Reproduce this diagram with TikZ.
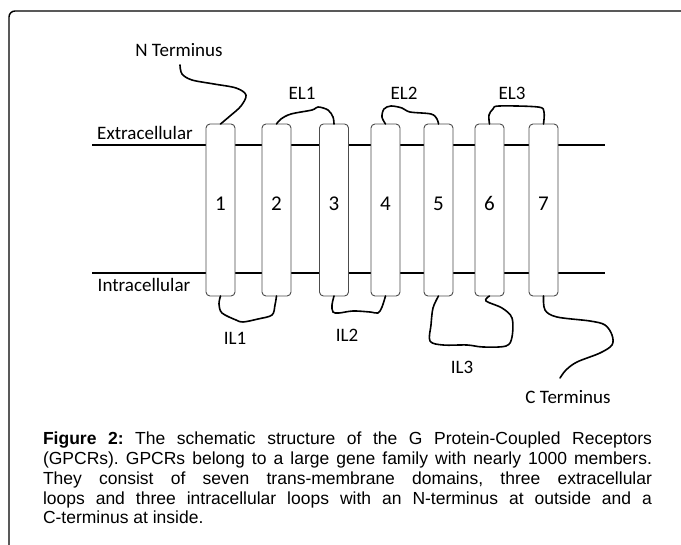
\documentclass[tikz,border=0pt]{standalone}
\usepackage{fontspec}
\setmainfont{Carlito}
\newfontfamily\capfont{Liberation Sans}
\usetikzlibrary{positioning}

\begin{document}
\begin{tikzpicture}
[x=1pt,y=-1pt,
 every node/.style={inner sep=0pt,outer sep=0pt,font=\fontsize{19}{22}\selectfont},
 helix/.style={rectangle,draw=black!70,fill=white,line width=0.9pt,rounded corners=4pt,
               minimum width=29pt,minimum height=172pt,text height=14pt,text depth=12pt,
               font=\fontsize{21}{24}\selectfont},
 membrane/.style={line width=1.6pt},
 loop/.style={line width=1.6pt,line join=round,line cap=round}]

\useasboundingbox (0,0) rectangle (681,545);

% frame
\draw[line width=1.4pt,rounded corners=6pt] (9,545) -- (9,11) -- (681,11);

% membrane
\coordinate (ExtL) at (92,145);
\coordinate (ExtR) at (605,145);
\coordinate (IntL) at (92,273);
\coordinate (IntR) at (605,273);
\draw[membrane] (ExtL) -- (ExtR);
\draw[membrane] (IntL) -- (IntR);
\node (Ext) at (145,133) {Extracellular};
\node (Int) at (144,285) {Intracellular};

% helices
\node[helix] (H1) at (220.5,210)             {1};
\node[helix] (H2) [on grid,right=56pt of H1]   {2};
\node[helix] (H3) [on grid,right=57.5pt of H2] {3};
\node[helix] (H4) [on grid,right=51.5pt of H3] {4};
\node[helix] (H5) [on grid,right=53pt of H4]   {5};
\node[helix] (H6) [on grid,right=51pt of H5]   {6};
\node[helix] (H7) [on grid,right=54pt of H6]   {7};

% labels
\node (NTerm) at (179,50)  {N Terminus};
\node (EL1)   at (302,93)  {EL1};
\node (EL2)   at (404,93)  {EL2};
\node (EL3)   at (512,93)  {EL3};
\node (IL1)   at (235,338) {IL1};
\node (IL2)   at (347,335) {IL2};
\node (IL3)   at (462,367) {IL3};
\node (CTerm) at (568,397) {C Terminus};
\coordinate (NEnd) at (180,65);
\coordinate (CEnd) at (560,378);

% extracellular side
\draw[loop] plot[smooth,tension=0.55] coordinates
  {(NEnd) (182,74) (192,80) (214,84) (236,88) (246,95) (241,106) (230,116) (H1.north)};
\draw[loop] plot[smooth,tension=0.55] coordinates
  {(H2.north) (281,119) (291,114) (312,110) (318,107) (328,110) (333,117) (H3.north)};
\draw[loop] plot[smooth,tension=0.55] coordinates
  {(H4.north) (382,117) (384,109) (391,106) (402,108) (410,112) (431,114) (437,119) (H5.north)};
\draw[loop] plot[smooth,tension=0.55] coordinates
  {(H6.north) (489,115) (493,109) (499,106) (538,107) (544,112) (H7.north)};

% intracellular side
\draw[loop] plot[smooth,tension=0.55] coordinates
  {(H1.south) (219,304) (222,313) (236,320) (243,322) (258,319) (272,315) (275,305) (H2.south)};
\draw[loop] plot[smooth,tension=0.55] coordinates
  {(H3.south) (332,305) (333,312) (339,313) (353,311) (370,312) (378,313) (382,307) (H4.south)};
\draw[loop] plot[smooth,tension=0.55] coordinates
  {(H5.south) (433,308) (431,325) (430,341) (443,345) (467,345) (483,347) (506,346) (512,337) (512,318) (502,308) (486,301) (H6.south)};
\draw[loop] plot[smooth,tension=0.55] coordinates
  {(H7.south) (545,310) (557,317) (590,321) (605,325) (612,335) (612,345) (600,353) (577,362) (566,370) (CEnd)};

% caption
\node[anchor=north west,text width=609pt,align=justify,
      font=\capfont\fontsize{17.5}{19.8}\selectfont\frenchspacing] (Caption) at (43,432)
  {\textbf{Figure 2:} The schematic structure of the G Protein-Coupled Receptors\linebreak
   (GPCRs). GPCRs belong to a large gene family with nearly 1000 members.\linebreak
   They consist of seven trans-membrane domains, three extracellular\linebreak
   loops and three intracellular loops with an N-terminus at outside and a\linebreak
   C-terminus at inside.};

\end{tikzpicture}
\end{document}
